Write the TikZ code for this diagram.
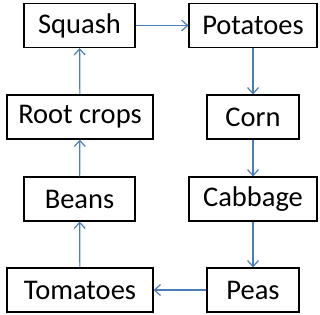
\documentclass[tikz,border=0pt]{standalone}
\usepackage{fontspec}
\setmainfont{Carlito}
\usetikzlibrary{arrows.meta}
\definecolor{linkblue}{HTML}{4A7EBB}

\begin{document}
\begin{tikzpicture}[x=1pt,y=-1pt,
    crop/.style={draw=black,line width=1.2pt,fill=white,inner sep=0pt,
      minimum height=44pt,font=\fontsize{28.5}{32}\selectfont},
    link/.style={draw=linkblue,line width=1.2pt,-{Straight Barb[length=6pt,width=11pt]}}]
  \useasboundingbox (0,0) rectangle (320,314);
  % left column
  \node[crop,minimum width=111pt] (squash) at (79.5,25.5) {Squash};
  \node[crop,minimum width=146pt] (root) at (80,117) {Root crops};
  \node[crop,minimum width=111pt] (beans) at (79.5,199) {Beans};
  \node[crop,minimum width=146pt] (tomatoes) at (80,290) {Tomatoes};
  % right column
  \node[crop,minimum width=128pt] (potatoes) at (253,25.5) {Potatoes};
  \node[crop,minimum width=92pt] (corn) at (253,117) {Corn};
  \node[crop,minimum width=128pt] (cabbage) at (253,199) {Cabbage};
  \node[crop,minimum width=92pt] (peas) at (253,290) {Peas};

  \draw[link] (squash) -- (potatoes);
  \draw[link] (potatoes) -- (corn);
  \draw[link] (corn) -- (cabbage);
  \draw[link] (cabbage) -- (peas);
  \draw[link] (peas) -- (tomatoes);
  \draw[link] (tomatoes) -- (beans);
  \draw[link] (beans) -- (root);
  \draw[link] (root) -- (squash);
\end{tikzpicture}
\end{document}
